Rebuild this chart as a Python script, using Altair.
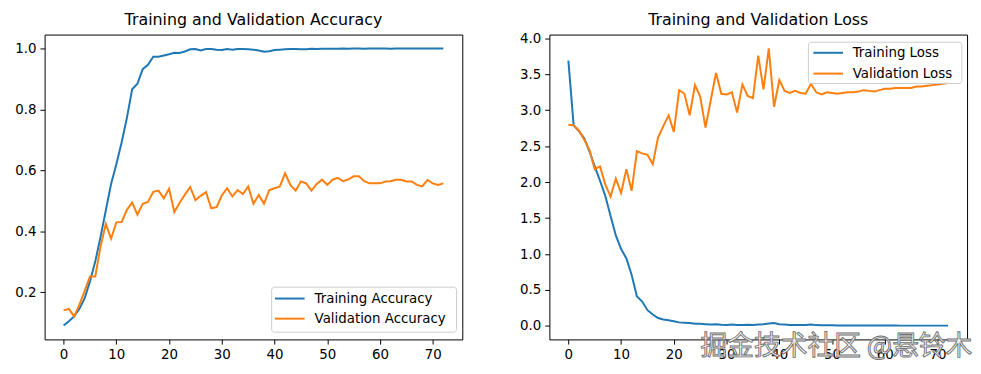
import altair as alt
import pandas as pd

# ---------------- data ----------------
epochs = list(range(73))

train_acc = [0.090, 0.104, 0.120, 0.145, 0.180, 0.235, 0.300, 0.381, 0.468, 0.555,
             0.620, 0.691, 0.772, 0.866, 0.884, 0.932, 0.946, 0.973, 0.973, 0.977,
             0.981, 0.986, 0.985, 0.990, 0.997, 0.998, 0.993, 0.998, 0.998, 0.996,
             0.995, 0.998, 0.996, 0.998, 0.998, 0.997, 0.996, 0.993, 0.989, 0.991,
             0.995, 0.996, 0.997, 0.998, 0.998, 0.997, 0.997, 0.999, 0.998, 0.999,
             0.999, 0.999, 0.999, 1.000, 0.999, 1.000, 1.000, 0.999, 1.000, 1.000,
             1.000, 1.000, 0.999, 1.000, 1.000, 1.000, 1.000, 1.000, 1.000, 1.000,
             1.000, 1.000, 1.000]

val_acc = [0.140, 0.145, 0.120, 0.159, 0.204, 0.251, 0.251, 0.349, 0.424, 0.375,
           0.429, 0.430, 0.470, 0.494, 0.454, 0.490, 0.496, 0.529, 0.533, 0.508,
           0.539, 0.463, 0.493, 0.520, 0.545, 0.502, 0.516, 0.528, 0.475, 0.479,
           0.517, 0.541, 0.514, 0.535, 0.522, 0.547, 0.490, 0.519, 0.490, 0.535,
           0.541, 0.547, 0.590, 0.552, 0.533, 0.563, 0.557, 0.533, 0.555, 0.569,
           0.552, 0.569, 0.575, 0.564, 0.570, 0.580, 0.580, 0.564, 0.557, 0.557,
           0.557, 0.563, 0.564, 0.569, 0.569, 0.563, 0.563, 0.552, 0.547, 0.568,
           0.557, 0.552, 0.557]

train_loss = [3.69, 2.79, 2.71, 2.61, 2.43, 2.22, 2.02, 1.81, 1.53, 1.26,
              1.07, 0.94, 0.71, 0.41, 0.34, 0.22, 0.16, 0.11, 0.09, 0.08,
              0.065, 0.05, 0.045, 0.04, 0.03, 0.03, 0.025, 0.02, 0.025, 0.018,
              0.015, 0.02, 0.015, 0.015, 0.018, 0.015, 0.02, 0.025, 0.035, 0.04,
              0.025, 0.02, 0.015, 0.015, 0.012, 0.015, 0.02, 0.012, 0.01, 0.01,
              0.01, 0.008, 0.008, 0.008, 0.007, 0.007, 0.007, 0.006, 0.006, 0.006,
              0.006, 0.006, 0.006, 0.005, 0.005, 0.005, 0.005, 0.005, 0.005, 0.005,
              0.005, 0.005, 0.005]

val_loss = [2.80, 2.79, 2.72, 2.59, 2.45, 2.18, 2.22, 1.97, 1.80, 2.05,
            1.85, 2.18, 1.88, 2.43, 2.40, 2.38, 2.25, 2.62, 2.78, 2.93,
            2.70, 3.28, 3.23, 2.93, 3.35, 3.19, 2.76, 3.14, 3.52, 3.23,
            3.22, 3.25, 2.97, 3.36, 3.20, 3.17, 3.76, 3.29, 3.86, 3.05,
            3.42, 3.27, 3.24, 3.27, 3.24, 3.23, 3.37, 3.25, 3.22, 3.25,
            3.24, 3.23, 3.24, 3.25, 3.25, 3.26, 3.28, 3.27, 3.26, 3.28,
            3.30, 3.30, 3.31, 3.31, 3.31, 3.31, 3.33, 3.33, 3.34, 3.35,
            3.36, 3.37, 3.38]

acc_labels = ["Training Accuracy", "Validation Accuracy"]
loss_labels = ["Training Loss", "Validation Loss"]
titles = ["Training and Validation Accuracy", "Training and Validation Loss"]
x_ticks = [0, 10, 20, 30, 40, 50, 60, 70]
acc_ticks = [0.2, 0.4, 0.6, 0.8, 1.0]
loss_ticks = [0.0, 0.5, 1.0, 1.5, 2.0, 2.5, 3.0, 3.5, 4.0]
watermark = ["掘金技术社区 @悬铃木"]

# ---------------- style ----------------
COLORS = ["#1f77b4", "#ff7f0e"]
FONT = "DejaVu Sans"
W, H = 422, 308
X_DOMAIN = [-3.6, 75.6]
ACC_DOMAIN = [0.0445, 1.0455]
LOSS_DOMAIN = [-0.187, 4.053]

acc_df = pd.DataFrame({
    "epoch": epochs + epochs,
    "value": train_acc + val_acc,
    "series": [acc_labels[0]] * len(epochs) + [acc_labels[1]] * len(epochs),
})
loss_df = pd.DataFrame({
    "epoch": epochs + epochs,
    "value": train_loss + val_loss,
    "series": [loss_labels[0]] * len(epochs) + [loss_labels[1]] * len(epochs),
})


def lines(df, labels, ydomain, yticks):
    return alt.Chart(df).mark_line(strokeWidth=2).encode(
        x=alt.X("epoch:Q",
                scale=alt.Scale(domain=X_DOMAIN, nice=False, zero=False),
                axis=alt.Axis(values=x_ticks, format="d", title=None)),
        y=alt.Y("value:Q",
                scale=alt.Scale(domain=ydomain, nice=False, zero=False),
                axis=alt.Axis(values=yticks, format=".1f", title=None)),
        color=alt.Color("series:N",
                        scale=alt.Scale(domain=labels, range=COLORS),
                        legend=None),
        order="epoch:Q",
    )


def legend(labels, box, line_x, text_x, rows):
    """Matplotlib-style legend box drawn inside the plot area (pixel offsets)."""
    one = pd.DataFrame({"k": [0]})
    parts = [
        alt.Chart(one).mark_rect(
            fill="white", fillOpacity=0.8, stroke="#cccccc", strokeWidth=1,
            cornerRadius=3,
        ).encode(x=alt.value(box[0]), x2=alt.value(box[1]),
                 y=alt.value(box[2]), y2=alt.value(box[3]))
    ]
    for lab, col, ry in zip(labels, COLORS, rows):
        parts.append(
            alt.Chart(one).mark_rule(color=col, strokeWidth=2).encode(
                x=alt.value(line_x[0]), x2=alt.value(line_x[1]), y=alt.value(ry))
        )
        parts.append(
            alt.Chart(pd.DataFrame({"t": [lab]})).mark_text(
                font=FONT, fontSize=13.5, color="black", align="left",
                baseline="middle",
            ).encode(text="t:N", x=alt.value(text_x), y=alt.value(ry))
        )
    return parts


def title(text, dy=0):
    return alt.TitleParams(text, fontSize=16, fontWeight="normal", font=FONT,
                           color="black", anchor="middle", offset=4, dy=dy)


acc_chart = alt.layer(
    lines(acc_df, acc_labels, ACC_DOMAIN, acc_ticks),
    *legend(acc_labels, (229.4, 416.2, 255.2, 300.7), (232.7, 262.7), 272.7,
            (266.7, 287.0)),
).properties(width=W, height=H, title=title(titles[0], dy=-3))

wm = alt.Chart(pd.DataFrame({"t": watermark})).mark_text(
    font="Noto Sans CJK SC", fontSize=27, fill="#f4f4f4", stroke="#6f6f6f",
    strokeWidth=0.9, align="center", baseline="middle",
).encode(text="t:N", x=alt.value(290), y=alt.value(316))

loss_chart = alt.layer(
    lines(loss_df, loss_labels, LOSS_DOMAIN, loss_ticks),
    *legend(loss_labels, (261.7, 416.7, 7.7, 49.4), (266.7, 296.7), 306.4,
            (18.4, 39.4)),
    wm,
).properties(width=W, height=H, title=title(titles[1]))

chart = alt.hconcat(acc_chart, loss_chart, spacing=56).resolve_scale(
    color="independent"
).properties(
    padding={"left": 6, "top": 1, "right": 0, "bottom": 2}
).configure_view(
    stroke="black", strokeWidth=1
).configure_axis(
    labelFont=FONT, labelFontSize=13.5, labelColor="black",
    tickColor="black", tickSize=4.7, tickWidth=1, labelPadding=4,
    domain=False, grid=False,
)

chart.save("out.html", embed_options={"renderer": "svg", "actions": False})
